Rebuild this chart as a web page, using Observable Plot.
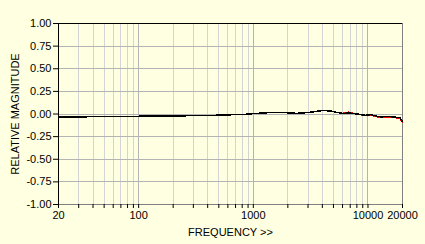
<!DOCTYPE html>
<html>
<head>
<meta charset="utf-8">
<script src="https://cdn.jsdelivr.net/npm/d3@7"></script>
<script src="https://cdn.jsdelivr.net/npm/@observablehq/plot@0.6"></script>
<style>
  html, body { margin: 0; padding: 0; background: #FFFFE1; }
</style>
</head>
<body>
<div id="chart"></div>
<script>
const freqs = [20, 30, 45, 100, 200, 300, 450, 650, 800, 1000, 1400, 1800, 2400, 3000, 3450, 4100, 4850, 5350, 6000, 6750, 7550, 8500, 9600, 10600, 11500, 12800, 15200, 17800, 19000, 20000];
const blackValues = [-0.035, -0.034, -0.026, -0.025, -0.024, -0.017, -0.015, -0.008, -0.007, 0.004, 0.016, 0.017, 0.007, 0.016, 0.027, 0.04, 0.03, 0.018, 0.006, 0.012, 0.005, -0.004, -0.015, -0.006, -0.02, -0.032, -0.027, -0.037, -0.04, -0.085];
const redValues = [-0.035, -0.034, -0.026, -0.025, -0.024, -0.017, -0.015, -0.008, -0.007, 0.004, 0.016, 0.017, 0.007, 0.016, 0.027, 0.04, 0.03, 0.018, 0.006, 0.02, 0.005, -0.004, -0.02, -0.012, -0.026, -0.036, -0.033, -0.043, -0.05, -0.095];
const yTicks = [-1, -0.75, -0.5, -0.25, 0, 0.25, 0.5, 0.75, 1];
const xLabelTicks = [20, 100, 1000, 10000, 20000];
const xMajorGrid = [100, 1000, 10000];
const xMinorGrid = [30, 40, 50, 60, 70, 80, 90, 200, 300, 400, 500, 600, 700, 800, 900, 2000, 3000, 4000, 5000, 6000, 7000, 8000, 9000];
const xAllTicks = [20, ...xMinorGrid, ...xMajorGrid, 20000].sort((a, b) => a - b);

const blackData = freqs.map((f, i) => ({f, v: blackValues[i]}));
const redData = freqs.map((f, i) => ({f, v: redValues[i]}));

const crisp = {shapeRendering: "crispEdges"};

const chart = Plot.plot({
  width: 425,
  height: 244,
  marginLeft: 58,
  marginRight: 23,
  marginTop: 23,
  marginBottom: 40,
  style: {fontFamily: "Liberation Sans", fontSize: "11px", background: "#FFFFE1", color: "black"},
  x: {type: "log", domain: [20, 20000]},
  y: {domain: [-1, 1]},
  marks: [
    Plot.ruleX(xMinorGrid, {stroke: "#d4d4d4", strokeWidth: 1, ...crisp}),
    Plot.ruleX(xMajorGrid, {stroke: "#b4b4b4", strokeWidth: 1, ...crisp}),
    Plot.ruleY(yTicks.filter(d => d > -1 && d < 1), {stroke: "#b4b4b4", strokeWidth: 1, ...crisp}),
    Plot.ruleY([-1], {stroke: "#808080", strokeWidth: 1, ...crisp}),
    Plot.ruleX([20000], {stroke: "#808080", strokeWidth: 1, ...crisp}),
    Plot.ruleY([1], {stroke: "black", strokeWidth: 1.5, ...crisp}),
    Plot.ruleX([20], {stroke: "black", strokeWidth: 1.5, ...crisp}),
    Plot.line(redData, {x: "f", y: "v", stroke: "#ff0000", strokeWidth: 1.5, ...crisp}),
    Plot.line(blackData, {x: "f", y: "v", stroke: "black", strokeWidth: 1.5, ...crisp}),
    Plot.axisY({
      ticks: yTicks,
      tickFormat: d => d.toFixed(2),
      tickSize: 5,
      tickPadding: 2,
      label: "RELATIVE MAGNITUDE",
      labelAnchor: "center",
      labelArrow: "none",
      labelOffset: 47
    }),
    Plot.axisX({
      ticks: xAllTicks,
      tickFormat: d => xLabelTicks.includes(d) ? String(d) : "",
      tickSize: 4,
      tickPadding: 3,
      label: "FREQUENCY >>",
      labelAnchor: "center",
      labelArrow: "none",
      labelOffset: 31
    })
  ]
});
document.getElementById("chart").appendChild(chart);
</script>
</body>
</html>
